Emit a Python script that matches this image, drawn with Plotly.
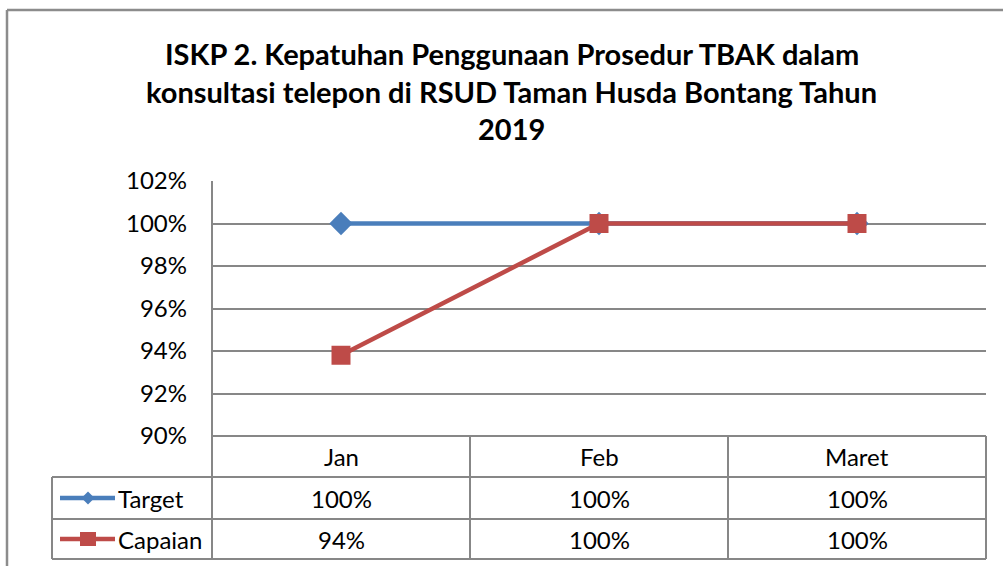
import plotly.graph_objects as go

months = ["Jan", "Feb", "Maret"]
target = [1.00, 1.00, 1.00]
capaian = [0.938, 1.00, 1.00]
series_names = ["Target", "Capaian"]
series_colors = ["#4A7EBB", "#BE4B48"]
title_lines = ["ISKP 2. Kepatuhan Penggunaan Prosedur TBAK dalam",
               "konsultasi telepon di RSUD Taman Husda Bontang Tahun",
               "2019"]
y_ticks = [0.90, 0.92, 0.94, 0.96, 0.98, 1.00, 1.02]

W, H = 1003, 566
FONT = "Lato"
GRID = "#878787"
TXT = 24


def px(x):
    return x / W


def py(y):
    return 1 - y / H


fig = go.Figure()
fig.add_trace(go.Scatter(
    x=months, y=target, name=series_names[0], mode="lines+markers",
    line=dict(color=series_colors[0], width=4.5),
    marker=dict(symbol="diamond", size=18, color=series_colors[0]),
))
fig.add_trace(go.Scatter(
    x=months, y=capaian, name=series_names[1], mode="lines+markers",
    line=dict(color=series_colors[1], width=4.5),
    marker=dict(symbol="square", size=19, color=series_colors[1]),
))

shapes = []


def hline(x0, x1, y, w=2, color=GRID):
    shapes.append(dict(type="line", xref="paper", yref="paper",
                       x0=px(x0), x1=px(x1), y0=py(y), y1=py(y),
                       line=dict(color=color, width=w)))


def vline(x, y0, y1, w=2, color=GRID):
    shapes.append(dict(type="line", xref="paper", yref="paper",
                       x0=px(x), x1=px(x), y0=py(y0), y1=py(y1),
                       line=dict(color=color, width=w)))


# outer chart border
hline(7, 1010, 10, w=2.5, color="#8C8C8C")
vline(7, 10, 570, w=2.5, color="#8C8C8C")

# data table grid
col_x = [212, 470, 728, 986]
row_y = [436, 477, 519, 559]
hline(212, 986, 436)
for yy in row_y[1:]:
    hline(52, 986, yy)
vline(52, 477, 559)
vline(212, 181, 559)
for xx in col_x[1:]:
    vline(xx, 436, 559)

annotations = []
for i, line in enumerate(title_lines):
    annotations.append(dict(text=f"<b>{line}</b>", xref="paper", yref="paper",
                            x=px(512), y=py([53, 91, 128][i]), showarrow=False,
                            xanchor="center", yanchor="middle",
                            font=dict(family=FONT, size=29, color="#000000")))

# header row
for i, m in enumerate(months):
    cx = (col_x[i] + col_x[i + 1]) / 2
    annotations.append(dict(text=m, xref="paper", yref="paper", x=px(cx),
                            y=py((row_y[0] + row_y[1]) / 2), showarrow=False,
                            xanchor="center", yanchor="middle",
                            font=dict(family=FONT, size=TXT, color="#000000")))

# value rows + legend keys
for r, (name, vals, col) in enumerate(zip(series_names, [target, capaian], series_colors)):
    cy = (row_y[r + 1] + row_y[r + 2]) / 2
    for i, v in enumerate(vals):
        cx = (col_x[i] + col_x[i + 1]) / 2
        annotations.append(dict(text=f"{v:.0%}", xref="paper", yref="paper", x=px(cx),
                                y=py(cy), showarrow=False, xanchor="center", yanchor="middle",
                                font=dict(family=FONT, size=TXT, color="#000000")))
    annotations.append(dict(text=name, xref="paper", yref="paper", x=px(116),
                            y=py(cy), showarrow=False, xanchor="left", yanchor="middle",
                            font=dict(family=FONT, size=TXT, color="#000000")))
    shapes.append(dict(type="line", xref="paper", yref="paper",
                       x0=px(60), x1=px(115), y0=py(cy), y1=py(cy),
                       line=dict(color=col, width=4.5)))
    mx = 88
    if r == 0:
        s = 6.5
        path = (f"M {px(mx - s)} {py(cy)} L {px(mx)} {py(cy - s)} "
                f"L {px(mx + s)} {py(cy)} L {px(mx)} {py(cy + s)} Z")
        shapes.append(dict(type="path", xref="paper", yref="paper", path=path,
                           fillcolor=col, line=dict(color=col, width=0)))
    else:
        s = 8
        shapes.append(dict(type="rect", xref="paper", yref="paper",
                           x0=px(mx - s), x1=px(mx + s), y0=py(cy - 7), y1=py(cy + 7),
                           fillcolor=col, line=dict(color=col, width=0)))

fig.update_layout(
    width=W, height=H, autosize=False,
    margin=dict(l=0, r=0, t=0, b=0, pad=0, autoexpand=False),
    paper_bgcolor="white", plot_bgcolor="white",
    showlegend=False,
    shapes=shapes, annotations=annotations,
    font=dict(family=FONT, color="#000000"),
    xaxis=dict(domain=[px(212), px(986)], range=[-0.5, 2.5], showticklabels=False,
               showgrid=False, zeroline=False, showline=False, fixedrange=True,
               automargin=False),
    yaxis=dict(domain=[py(436), py(181)], range=[0.90, 1.02], tickvals=y_ticks,
               tickformat=".0%", showgrid=True, gridcolor=GRID, gridwidth=1.5,
               zeroline=False, showline=False, ticks="", ticklabelstandoff=24,
               tickfont=dict(family=FONT, size=TXT, color="#000000"), fixedrange=True,
               automargin=False),
)

fig.write_html("out.html", config={"displayModeBar": False},
               post_script="document.body.style.margin='0';document.body.style.overflow='hidden';")
